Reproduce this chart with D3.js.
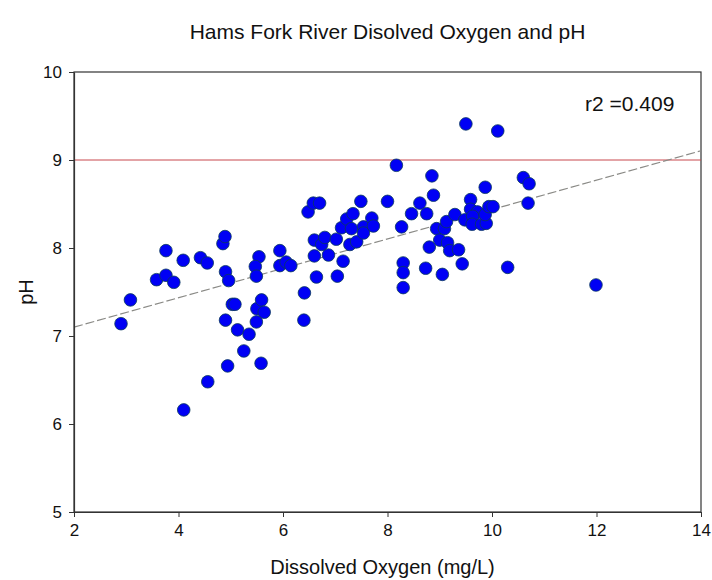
<!DOCTYPE html>
<html>
<head>
<meta charset="utf-8">
<script src="https://cdn.jsdelivr.net/npm/d3@7"></script>
<style>
  body { margin: 0; background: #fff; }
  text { font-family: "Liberation Sans", Arial, sans-serif; fill: #111; }
</style>
</head>
<body>
<script>
const MARGIN = { top: 72, right: 11, bottom: 68, left: 74 };
const WIDTH = 712 - MARGIN.left - MARGIN.right;
const HEIGHT = 580 - MARGIN.top - MARGIN.bottom;

// dissolved oxygen (mg/L)
const doValues = [
  2.90, 3.08, 3.58, 3.76, 3.76, 3.91, 4.09, 4.10, 4.42, 4.55,
  4.56, 4.85, 4.89, 4.90, 4.96, 5.03, 5.08, 4.90, 4.94, 5.13,
  5.25, 5.35, 5.50, 5.59, 5.64, 5.49, 5.58, 5.54, 5.47, 5.49,
  5.94, 5.94, 6.06, 6.15, 6.41, 6.40, 6.48, 6.58, 6.70, 6.60,
  6.74, 6.80, 6.60, 6.87, 6.64, 7.02, 7.04, 7.12, 7.15, 7.22,
  7.28, 7.31, 7.34, 7.41, 7.49, 7.54, 7.54, 7.70, 7.73, 8.00,
  8.17, 8.27, 8.30, 8.30, 8.30, 8.46, 8.62, 8.75, 8.80, 8.73,
  8.85, 8.88, 8.94, 9.09, 9.13, 9.00, 9.15, 9.05, 9.19, 9.36,
  9.29, 9.43, 9.50, 9.48, 9.59, 9.59, 9.72, 9.63, 9.62, 9.80,
  9.89, 9.87, 9.87, 9.94, 10.02, 10.11, 10.30, 10.60, 10.71, 10.69,
  11.99
];
// pH
const phValues = [
  7.14, 7.41, 7.64, 7.69, 7.97, 7.61, 7.86, 6.16, 7.89, 7.83,
  6.48, 8.05, 8.13, 7.73, 7.63, 7.36, 7.36, 7.18, 6.66, 7.07,
  6.83, 7.02, 7.31, 7.41, 7.27, 7.16, 6.69, 7.90, 7.79, 7.68,
  7.97, 7.80, 7.84, 7.80, 7.49, 7.18, 8.41, 8.51, 8.51, 8.09,
  8.04, 8.12, 7.91, 7.92, 7.67, 8.10, 7.68, 8.23, 7.85, 8.33,
  8.04, 8.22, 8.39, 8.07, 8.53, 8.24, 8.17, 8.34, 8.25, 8.53,
  8.94, 8.24, 7.83, 7.72, 7.55, 8.39, 8.51, 8.39, 8.01, 7.77,
  8.82, 8.60, 8.22, 8.22, 8.30, 8.09, 8.06, 7.70, 7.97, 7.98,
  8.38, 7.82, 9.41, 8.32, 8.55, 8.44, 8.41, 8.36, 8.27, 8.27,
  8.28, 8.38, 8.69, 8.47, 8.47, 9.33, 7.78, 8.80, 8.73, 8.51,
  7.58
];

const xTicks = [2, 4, 6, 8, 10, 12, 14];
const yTicks = [5, 6, 7, 8, 9, 10];
const fitLine = [[2, 7.10], [14, 9.105]];
const limitPH = 9;
const r2Label = "r2 =0.409";

const svg = d3
  .select("body")
  .append("svg")
  .attr("width", 712)
  .attr("height", 580);

const g = svg
  .append("g")
  .attr("transform", "translate(" + MARGIN.left + "," + MARGIN.top + ")");

const xScale = d3.scaleLinear().domain([2, 14]).range([0, WIDTH]);
const yScale = d3.scaleLinear().domain([5, 10]).range([HEIGHT, 0]);

// frame
g.append("rect")
  .attr("width", WIDTH)
  .attr("height", HEIGHT)
  .attr("fill", "none")
  .attr("stroke", "#333")
  .attr("stroke-width", 1.2);

// pH limit line
g.append("line")
  .attr("x1", 0)
  .attr("x2", WIDTH)
  .attr("y1", yScale(limitPH))
  .attr("y2", yScale(limitPH))
  .attr("stroke", "#c8484e")
  .attr("stroke-width", 1);

// regression line
g.append("line")
  .attr("x1", xScale(fitLine[0][0]))
  .attr("y1", yScale(fitLine[0][1]))
  .attr("x2", xScale(fitLine[1][0]))
  .attr("y2", yScale(fitLine[1][1]))
  .attr("stroke", "#8a8a86")
  .attr("stroke-width", 1.2)
  .attr("stroke-dasharray", "9,3");

const points = doValues.map((d, i) => ({ x: d, y: phValues[i] }));

g.selectAll("circle")
  .data(points)
  .enter()
  .append("circle")
  .attr("cx", d => xScale(d.x))
  .attr("cy", d => yScale(d.y))
  .attr("r", 6.3)
  .attr("fill", "#0000f5")
  .attr("stroke", "#0a3a5a")
  .attr("stroke-width", 0.8);

const xAxis = g
  .append("g")
  .attr("transform", "translate(0," + HEIGHT + ")")
  .call(d3.axisBottom(xScale).tickValues(xTicks).tickFormat(d3.format("d"))
    .tickSize(5).tickSizeOuter(0).tickPadding(7));
const yAxis = g
  .append("g")
  .call(d3.axisLeft(yScale).tickValues(yTicks).tickFormat(d3.format("d"))
    .tickSize(5).tickSizeOuter(0).tickPadding(7));

[xAxis, yAxis].forEach(a => {
  a.select(".domain").attr("stroke", "#333").attr("stroke-width", 1.2);
  a.selectAll(".tick line").attr("stroke", "#333");
  a.selectAll(".tick text")
    .style("font-family", "'Liberation Sans', Arial, sans-serif")
    .style("font-size", "17px")
    .attr("fill", "#111");
});

// r2 annotation
g.append("text")
  .attr("x", 585 - MARGIN.left)
  .attr("y", yScale(9.56))
  .style("font-size", "21px")
  .text(r2Label);

// titles
svg.append("text")
  .attr("x", MARGIN.left + WIDTH / 2)
  .attr("y", 39)
  .attr("text-anchor", "middle")
  .style("font-size", "21px")
  .text("Hams Fork River Disolved Oxygen and pH");

svg.append("text")
  .attr("x", MARGIN.left + WIDTH / 2 - 5)
  .attr("y", 574)
  .attr("text-anchor", "middle")
  .style("font-size", "20px")
  .text("Dissolved Oxygen (mg/L)");

svg.append("text")
  .attr("transform", "translate(33," + (MARGIN.top + HEIGHT / 2) + ") rotate(-90)")
  .attr("text-anchor", "middle")
  .style("font-size", "20px")
  .text("pH");
</script>
</body>
</html>
